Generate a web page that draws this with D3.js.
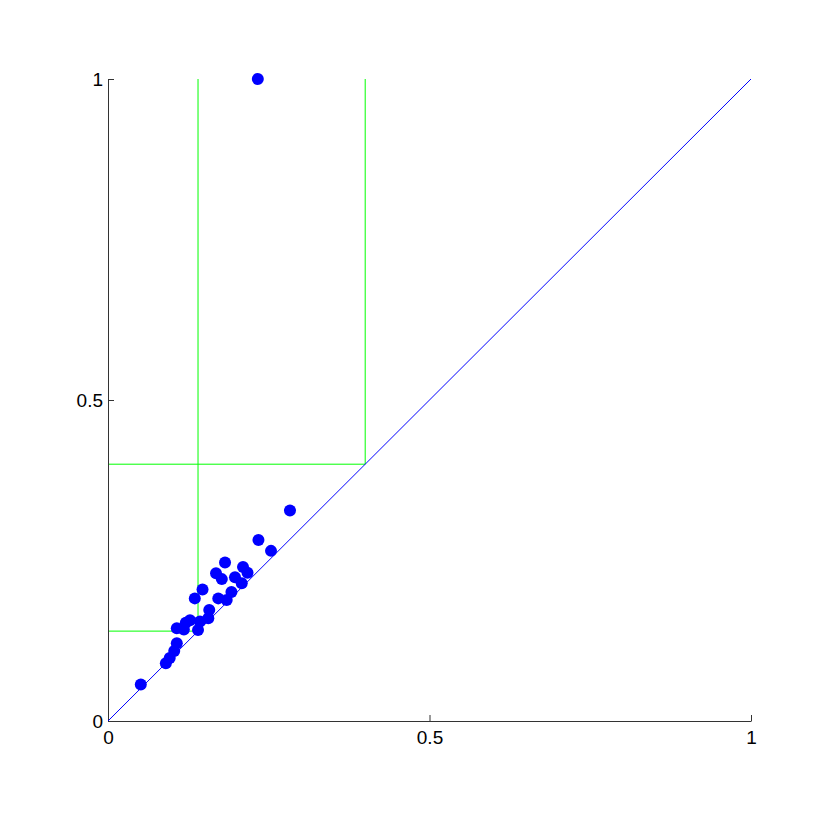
<!DOCTYPE html>
<html>
<head>
<meta charset="utf-8">
<script src="https://cdn.jsdelivr.net/npm/d3@7"></script>
<style>
  body { margin: 0; background: #fff; }
</style>
</head>
<body>
<script>
// scatter values
var xVals = [0.283, 0.234, 0.2535, 0.182, 0.210, 0.217, 0.168, 0.177, 0.1975, 0.208,
             0.147, 0.192, 0.135, 0.1715, 0.1846, 0.1575, 0.156, 0.1275, 0.121, 0.107,
             0.118, 0.140, 0.143, 0.107, 0.103, 0.096, 0.090, 0.051, 0.233];
var yVals = [0.328, 0.282, 0.265, 0.247, 0.240, 0.231, 0.230, 0.221, 0.224, 0.2145,
             0.205, 0.201, 0.191, 0.191, 0.1885, 0.173, 0.160, 0.157, 0.153, 0.1444,
             0.1425, 0.1417, 0.155, 0.121, 0.109, 0.098, 0.090, 0.057, 1.0];
// green threshold lines
var thresholds = [0.14, 0.4];
var tickVals = [0, 0.5, 1];

var width = 830, height = 830;
var margin = {top: 79, right: 79, bottom: 109, left: 108};

var svg = d3.select("body").append("svg")
    .attr("width", width)
    .attr("height", height);

var x = d3.scaleLinear().domain([0, 1]).range([margin.left, width - margin.right]);
var y = d3.scaleLinear().domain([0, 1]).range([height - margin.bottom, margin.top]);

// threshold lines
thresholds.forEach(function(t) {
  svg.append("line")
      .attr("x1", x(t)).attr("x2", x(t))
      .attr("y1", y(t)).attr("y2", y(1))
      .attr("stroke", "#00ff00").attr("stroke-width", 1);
  svg.append("line")
      .attr("x1", x(0)).attr("x2", x(t))
      .attr("y1", y(t)).attr("y2", y(t))
      .attr("stroke", "#00ff00").attr("stroke-width", 1);
});

// axes, ticks pointing inwards
var xAxis = svg.append("g")
    .attr("transform", "translate(0," + y(0) + ")")
    .call(d3.axisBottom(x).tickValues(tickVals).tickSize(-6).tickSizeOuter(0)
      .tickFormat(d3.format("")));
var yAxis = svg.append("g")
    .attr("transform", "translate(" + x(0) + ",0)")
    .call(d3.axisLeft(y).tickValues(tickVals).tickSize(-6).tickSizeOuter(0)
      .tickFormat(d3.format("")));

svg.selectAll("g")
    .attr("font-size", 19)
    .attr("font-family", "'Liberation Sans', Arial, sans-serif");
xAxis.selectAll("text").attr("y", 10).attr("dy", "0.71em").attr("fill", "#000");
yAxis.selectAll("text").attr("x", -5).attr("dy", "0.36em").attr("fill", "#000");
svg.selectAll(".domain, .tick line").attr("stroke", "#333");

// diagonal y = x
svg.append("line")
    .attr("x1", x(0)).attr("y1", y(0))
    .attr("x2", x(1)).attr("y2", y(1))
    .attr("stroke", "#0000ff").attr("stroke-width", 1);

// points
svg.selectAll("circle")
    .data(xVals.map(function(d, i) { return [d, yVals[i]]; }))
    .enter().append("circle")
    .attr("cx", function(d) { return x(d[0]); })
    .attr("cy", function(d) { return y(d[1]); })
    .attr("r", 6)
    .attr("fill", "#0000ff");
</script>
</body>
</html>
